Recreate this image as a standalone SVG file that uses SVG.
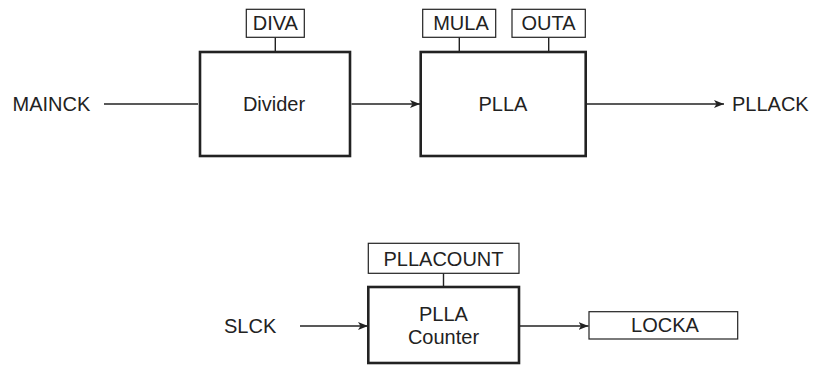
<svg xmlns="http://www.w3.org/2000/svg" width="814" height="365" viewBox="0 0 814 365">
<style>
text{font-family:"Liberation Sans",Arial,sans-serif;font-size:20px;fill:#222}
.c{text-anchor:middle}
.big{fill:#fff;stroke:#222;stroke-width:2.6}
.reg{fill:#fff;stroke:#222;stroke-width:1.2}
.ln{stroke:#222;stroke-width:1.4;fill:none}
</style>
<defs>
<marker id="ah" markerWidth="10" markerHeight="8" refX="10" refY="4" orient="auto" markerUnits="userSpaceOnUse">
<path d="M0,0 L10,4 L0,8 L2.5,4 Z" fill="#222"/>
</marker>
</defs>
<rect width="814" height="365" fill="#fff"/>
<g id="connectors">
<line class="ln" x1="104" y1="104" x2="198" y2="104"/>
<line class="ln" x1="351.5" y1="104" x2="420" y2="104" marker-end="url(#ah)"/>
<line class="ln" x1="586" y1="104" x2="724" y2="104" marker-end="url(#ah)"/>
<line class="ln" x1="275.3" y1="37.3" x2="275.3" y2="52"/>
<line class="ln" x1="459.3" y1="37.3" x2="459.3" y2="52"/>
<line class="ln" x1="548.7" y1="37.3" x2="548.7" y2="52"/>
<line class="ln" x1="443.5" y1="273.3" x2="443.5" y2="287"/>
<line class="ln" x1="300" y1="326" x2="368" y2="326" marker-end="url(#ah)"/>
<line class="ln" x1="520" y1="326" x2="588.5" y2="326" marker-end="url(#ah)"/>
</g>
<g id="mainck"><text x="12.5" y="110.5">MAINCK</text></g>
<g id="diva"><rect class="reg" x="246.3" y="9.3" width="58" height="28"/><text class="c" x="275.3" y="30">DIVA</text></g>
<g id="divider"><rect class="big" x="200" y="52" width="150" height="104"/><text class="c" x="274" y="111">Divider</text></g>
<g id="mula"><rect class="reg" x="422.7" y="9.3" width="73" height="28"/><text class="c" x="461" y="30">MULA</text></g>
<g id="outa"><rect class="reg" x="512" y="9.3" width="73.3" height="28"/><text class="c" x="548.5" y="30">OUTA</text></g>
<g id="plla"><rect class="big" x="420.7" y="52" width="165" height="104"/><text class="c" x="503" y="111">PLLA</text></g>
<g id="pllack"><text x="732" y="110.5">PLLACK</text></g>
<g id="slck"><text x="224" y="332.5">SLCK</text></g>
<g id="pllacount"><rect class="reg" x="368.3" y="243.3" width="150.7" height="30"/><text class="c" x="443.5" y="266">PLLACOUNT</text></g>
<g id="counter"><rect class="big" x="368.3" y="287" width="150.7" height="76"/><text class="c" x="443.5" y="320.5">PLLA</text><text class="c" x="443.5" y="344">Counter</text></g>
<g id="locka"><rect class="reg" x="589" y="311.7" width="148.7" height="27.3"/><text class="c" x="665" y="332">LOCKA</text></g>
</svg>
